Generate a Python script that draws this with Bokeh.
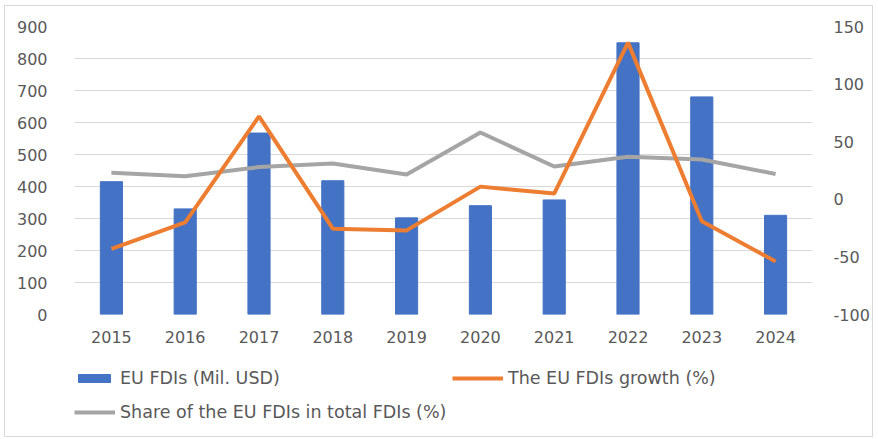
from bokeh.plotting import figure
from bokeh.layouts import column
from bokeh.models import Range1d, LinearAxis, FixedTicker, Legend, LegendItem, FactorRange
from bokeh.embed import file_html
from bokeh.resources import INLINE

years = ["2015", "2016", "2017", "2018", "2019", "2020", "2021", "2022", "2023", "2024"]
eu_fdi = [415, 330, 567, 418, 302, 340, 358, 849, 680, 310]
growth = [-43, -20, 72, -25.5, -27, 11, 5, 136, -19, -54]
share = [23, 20, 28, 31, 21.5, 58, 28.5, 37, 34.5, 22]

left_ticks = [0, 100, 200, 300, 400, 500, 600, 700, 800, 900]
right_ticks = [-100, -50, 0, 50, 100, 150]
right_labels = {t: str(t) for t in right_ticks}

FONT = "DejaVu Sans"
FS = "16px"
LFS = "17.5px"
TXT = "#595959"
BLUE, ORANGE, GRAY = "#4472C4", "#ED7D31", "#A5A5A5"

p = figure(width=867, height=348, output_backend="svg", toolbar_location=None,
           x_range=FactorRange(*years), y_range=Range1d(0, 900),
           min_border_left=69, min_border_right=59, min_border_top=20, min_border_bottom=40)
p.outline_line_color = None
p.extra_y_ranges = {"right": Range1d(-100, 150)}

p.vbar(x=years, top=eu_fdi, width=0.3, color=BLUE)
p.line(x=years, y=share, y_range_name="right", line_color=GRAY, line_width=4)
p.line(x=years, y=growth, y_range_name="right", line_color=ORANGE, line_width=4)

p.xgrid.grid_line_color = None
p.ygrid.ticker = FixedTicker(ticks=left_ticks)
p.ygrid.grid_line_color = "#D9D9D9"

p.yaxis.ticker = FixedTicker(ticks=left_ticks)
for ax in [p.yaxis[0], p.xaxis[0]]:
    ax.axis_line_color = None
    ax.major_tick_line_color = None
    ax.minor_tick_line_color = None
    ax.major_label_text_font = FONT
    ax.major_label_text_font_size = FS
    ax.major_label_text_color = TXT
p.yaxis.major_label_standoff = 21
p.xaxis.major_label_standoff = 10

ra = LinearAxis(y_range_name="right", ticker=FixedTicker(ticks=right_ticks))
ra.major_label_overrides = right_labels
ra.axis_line_color = None
ra.major_tick_line_color = None
ra.minor_tick_line_color = None
ra.major_label_text_font = FONT
ra.major_label_text_font_size = FS
ra.major_label_text_color = TXT
ra.major_label_standoff = 15
p.add_layout(ra, "right")

# legend strip below the chart: same series, drawn out of this strip's view
p2 = figure(width=867, height=82, output_backend="svg", toolbar_location=None,
            x_range=FactorRange(*years), y_range=Range1d(5000, 6000),
            x_axis_location=None, y_axis_location=None,
            min_border_left=0, min_border_right=0, min_border_top=0, min_border_bottom=0)
p2.outline_line_color = None
p2.grid.grid_line_color = None
rb = p2.vbar(x=years, top=eu_fdi, width=0.3, color=BLUE)
ro = p2.line(x=years, y=growth, line_color=ORANGE, line_width=4)
rg = p2.line(x=years, y=share, line_color=GRAY, line_width=4)

def mk_legend(label, r, loc, gw, so):
    lg = Legend(items=[LegendItem(label=label, renderers=[r])], location=loc,
                glyph_width=gw, glyph_height=10, label_standoff=so, padding=0, margin=0,
                border_line_color=None, background_fill_alpha=0,
                label_text_font=FONT, label_text_font_size=LFS, label_text_color=TXT)
    p2.add_layout(lg, "center")

mk_legend("EU FDIs (Mil. USD)", rb, (0, 48), 40, 6)
mk_legend("The EU FDIs growth (%)", ro, (378, 48), 51, 5)
mk_legend("Share of the EU FDIs in total FDIs (%)", rg, (0, 14), 41, 5)

layout = column(p, p2, spacing=0, margin=(5, 0, 0, 4),
                styles={"border": "1px solid #D9D9D9"})
open("out.html", "w").write(file_html(layout, INLINE))
